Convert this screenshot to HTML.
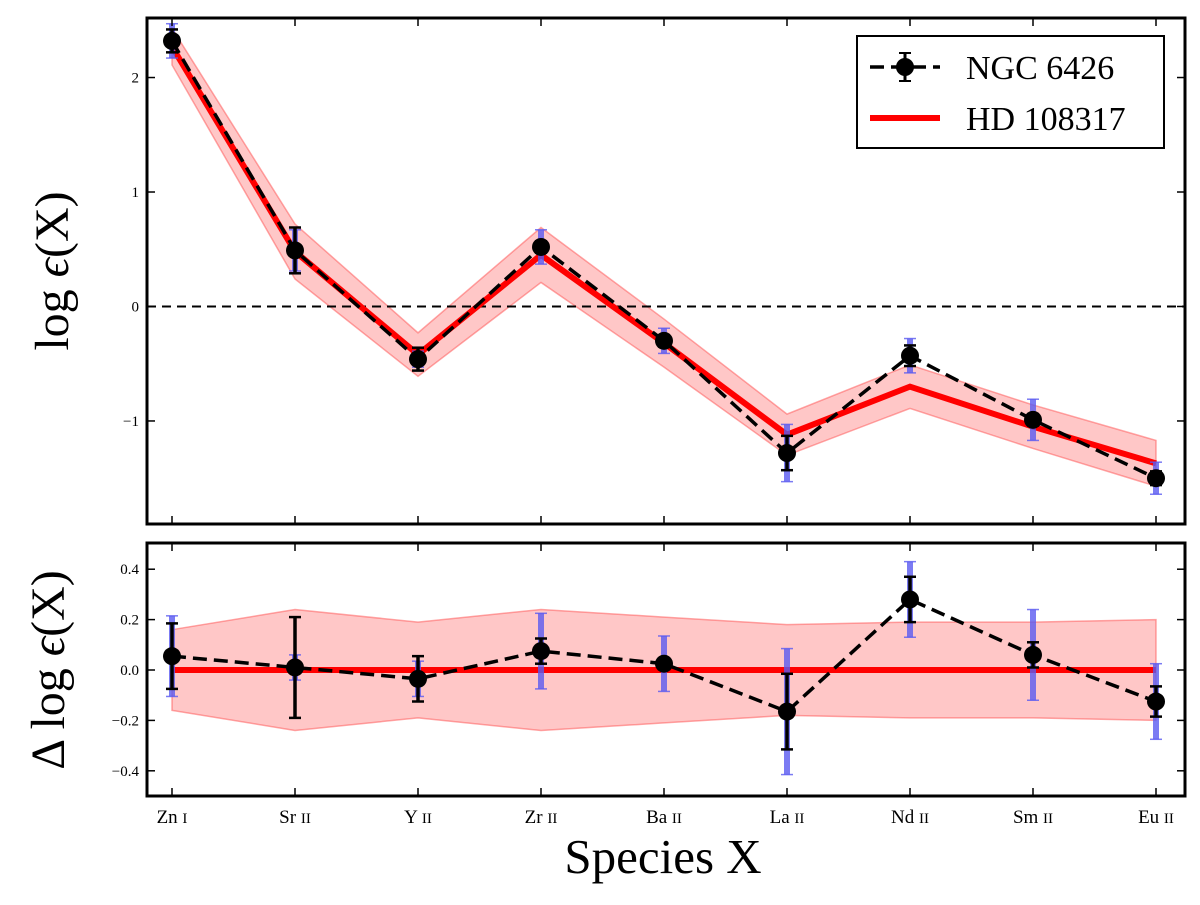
<!DOCTYPE html>
<html><head><meta charset="utf-8"><style>
body{margin:0;background:#fff}
text{font-family:"Liberation Serif",serif}
</style></head><body>
<svg id="chart" width="1200" height="900" xmlns="http://www.w3.org/2000/svg">
<g id="top"></g>
<g id="bot"></g>
<text x="663" y="873" font-size="49" text-anchor="middle">Species X</text>
<text transform="translate(68,271) rotate(-90)" font-size="48" text-anchor="middle">log <tspan font-style="italic">ϵ</tspan>(X)</text>
<text transform="translate(64,670) rotate(-90)" font-size="48" text-anchor="middle">Δ log <tspan font-style="italic">ϵ</tspan>(X)</text>
<g>
<rect x="857" y="36" width="307" height="112" fill="#fff" stroke="#000" stroke-width="2"/>
<line x1="870" y1="67" x2="940" y2="67" stroke="#000" stroke-width="3.5" stroke-dasharray="14,7"/>
<line x1="905" y1="53" x2="905" y2="81" stroke="#000" stroke-width="3"/>
<line x1="899" y1="53" x2="911" y2="53" stroke="#000" stroke-width="2"/><line x1="899" y1="81" x2="911" y2="81" stroke="#000" stroke-width="2"/>
<circle cx="905" cy="67" r="9" fill="#000"/>
<text x="966" y="79" font-size="34">NGC 6426</text>
<line x1="870" y1="118" x2="940" y2="118" stroke="#f00" stroke-width="6"/>
<text x="966" y="130" font-size="34">HD 108317</text>
</g>
</svg>
<script>
const categories=["Zn I","Sr II","Y II","Zr II","Ba II","La II","Nd II","Sm II","Eu II"];
const ngcValues=[2.32,0.49,-0.46,0.52,-0.30,-1.28,-0.43,-0.99,-1.50];
const ngcErrBlack=[0.10,0.20,0.10,0.05,0.05,0.15,0.09,0.05,0.06];
const ngcErrBlue=[0.15,0.18,0.07,0.15,0.11,0.25,0.15,0.18,0.14];
const hdValues=[2.27,0.48,-0.42,0.45,-0.32,-1.12,-0.70,-1.05,-1.37];
const hdBand=[0.16,0.24,0.19,0.24,0.21,0.18,0.19,0.19,0.20];
const deltaValues=[0.055,0.01,-0.035,0.075,0.025,-0.165,0.28,0.06,-0.125];
const deltaErrBlack=[0.13,0.20,0.09,0.05,0.02,0.15,0.09,0.05,0.06];
const deltaErrBlue=[0.16,0.05,0.07,0.15,0.11,0.25,0.15,0.18,0.15];
const topTicks=[2,1,0,-1];
const botTicks=[0.4,0.2,0.0,-0.2,-0.4];
const NS="http://www.w3.org/2000/svg";
const X0=147,X1=1185;
const xs=i=>172+i*123;
function mk(p,tag,a){const e=document.createElementNS(NS,tag);for(const k in a)e.setAttribute(k,a[k]);p.appendChild(e);return e;}
function panel(g,top,bot,vmin,vmax,ticks,fmt,vals,errK,errB,ref,band,name){
 const y=v=>bot-(v-vmin)/(vmax-vmin)*(bot-top);
 let pts=categories.map((c,i)=>xs(i)+","+y(ref[i]+band[i])).concat(categories.map((c,i)=>xs(8-i)+","+y(ref[8-i]-band[8-i])));
 const b=mk(g,"polygon",{points:pts.join(" "),fill:"rgba(255,0,0,0.22)",stroke:"rgba(255,80,80,0.5)","stroke-width":1.5});
 
 
 if(name==="top"){const z=mk(g,"line",{x1:X0,x2:X1,y1:y(0),y2:y(0),stroke:"#000","stroke-width":2,"stroke-dasharray":"9,6"});
 
 }
 const l=mk(g,"polyline",{points:ref.map((v,i)=>xs(i)+","+y(v)).join(" "),fill:"none",stroke:"#f00","stroke-width":6});
 
 
 const d=mk(g,"polyline",{points:vals.map((v,i)=>xs(i)+","+y(v)).join(" "),fill:"none",stroke:"#000","stroke-width":3.5,"stroke-dasharray":"14,7"});
 
 
 vals.forEach((v,i)=>{const x=xs(i);
  const e1=mk(g,"g",{});
  
  
  mk(e1,"line",{x1:x,x2:x,y1:y(v-errB[i]),y2:y(v+errB[i]),stroke:"rgba(90,90,240,0.8)","stroke-width":6});
  mk(e1,"line",{x1:x-6,x2:x+6,y1:y(v-errB[i]),y2:y(v-errB[i]),stroke:"rgba(90,90,240,0.8)","stroke-width":1.5});
  mk(e1,"line",{x1:x-6,x2:x+6,y1:y(v+errB[i]),y2:y(v+errB[i]),stroke:"rgba(90,90,240,0.8)","stroke-width":1.5});
  const e2=mk(g,"g",{});
  
  
  mk(e2,"line",{x1:x,x2:x,y1:y(v-errK[i]),y2:y(v+errK[i]),stroke:"#000","stroke-width":3.5});
  mk(e2,"line",{x1:x-6,x2:x+6,y1:y(v-errK[i]),y2:y(v-errK[i]),stroke:"#000","stroke-width":2.5});
  mk(e2,"line",{x1:x-6,x2:x+6,y1:y(v+errK[i]),y2:y(v+errK[i]),stroke:"#000","stroke-width":2.5});
  const c=mk(g,"circle",{cx:x,cy:y(v),r:9,fill:"#000"});
  
  
 });
 ticks.forEach(t=>{const yy=y(t);
  mk(g,"line",{x1:X0,x2:X0+8,y1:yy,y2:yy,stroke:"#000","stroke-width":1.5});
  mk(g,"line",{x1:X1-8,x2:X1,y1:yy,y2:yy,stroke:"#000","stroke-width":1.5});
  const tx=mk(g,"text",{x:X0-8,y:yy+5,"font-size":15,"text-anchor":"end"});tx.textContent=fmt(t);
  
  
 });
 categories.forEach((c,i)=>{mk(g,"line",{x1:xs(i),x2:xs(i),y1:bot,y2:bot-8,stroke:"#000","stroke-width":1.5});
  mk(g,"line",{x1:xs(i),x2:xs(i),y1:top,y2:top+8,stroke:"#000","stroke-width":1.5});});
 const fr=mk(g,"rect",{x:X0,y:top,width:X1-X0,height:bot-top,fill:"none",stroke:"#000","stroke-width":3});
 
 
}
const f1=t=>t===0?"0":(t<0?"−"+(-t):""+t);
const f2=t=>(t<0?"−":"")+Math.abs(t).toFixed(1);
panel(document.getElementById("top"),18,524,-1.90,2.52,topTicks,f1,ngcValues,ngcErrBlack,ngcErrBlue,hdValues,hdBand,"top");
panel(document.getElementById("bot"),543,796,-0.50,0.504,botTicks,f2,deltaValues,deltaErrBlack,deltaErrBlue,hdValues.map(()=>0),hdBand,"bottom");
const bg=document.getElementById("bot");
categories.forEach((c,i)=>{const p=c.split(" ");const t=mk(bg,"text",{x:xs(i),y:823,"font-size":19,"text-anchor":"middle"});
 t.textContent=p[0]+" ";const s=mk(t,"tspan",{"font-size":15});s.textContent=p[1];
 
 });
</script>
</body></html>
